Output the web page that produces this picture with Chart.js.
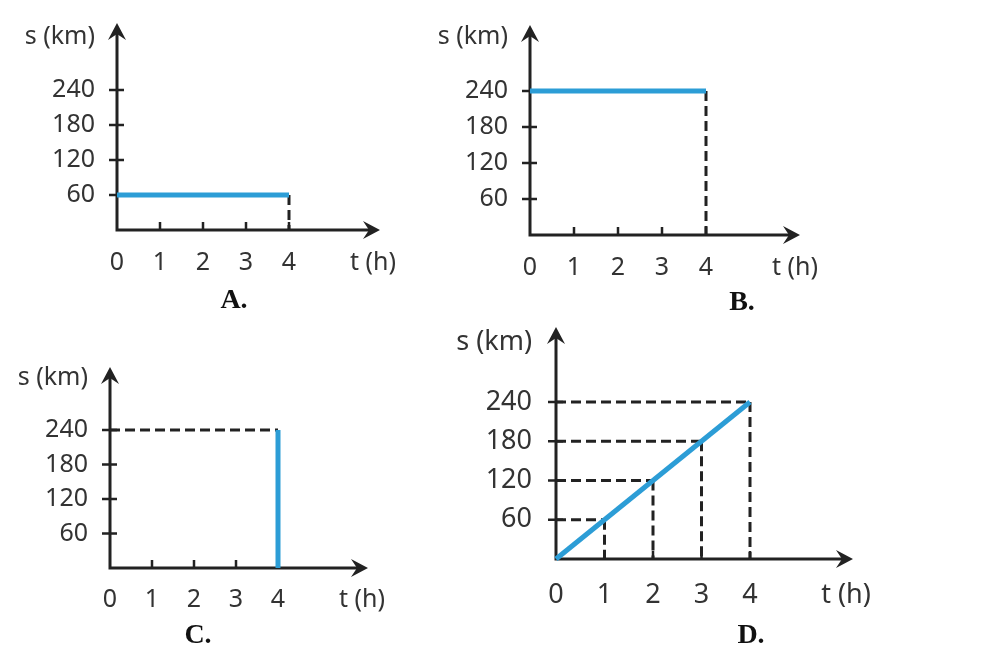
<!DOCTYPE html>
<html>
<head>
<meta charset="utf-8">
<script src="https://cdn.jsdelivr.net/npm/chart.js@4.4.1/dist/chart.umd.min.js"></script>
<style>
html,body{margin:0;padding:0;background:#fff;width:985px;height:645px;overflow:hidden;}
.layer{position:absolute;left:0;top:0;width:985px;height:645px;}
.cap{position:absolute;font-family:"Liberation Serif","Times New Roman",serif;font-weight:bold;font-size:28px;line-height:28px;color:#111;transform:translateX(-50%);white-space:nowrap;}
</style>
</head>
<body>
<div class="layer"><canvas id="cA" width="985" height="645"></canvas></div>
<div class="layer"><canvas id="cB" width="985" height="645"></canvas></div>
<div class="layer"><canvas id="cC" width="985" height="645"></canvas></div>
<div class="layer"><canvas id="cD" width="985" height="645"></canvas></div>
<div class="cap" id="capA" style="left:234px;top:285px;">A.</div>
<div class="cap" id="capB" style="left:742px;top:287px;">B.</div>
<div class="cap" id="capC" style="left:198px;top:620px;">C.</div>
<div class="cap" id="capD" style="left:751px;top:620px;">D.</div>
<script>
// ---- data ----
const timeTicks = [0, 1, 2, 3, 4];
const distTicks = [60, 120, 180, 240];
const xAxisTitle = 't (h)';
const yAxisTitle = 's (km)';
const timeA = [0, 4];
const distA = [60, 60];
const timeB = [0, 4];
const distB = [240, 240];
const timeC = [4, 4];
const distC = [0, 240];
const timeD = [0, 1, 2, 3, 4];
const distD = [0, 60, 120, 180, 240];

// ---- styles ----
const BLUE = '#2c9dd6';
const AXIS = '#222222';
const TEXT = '#333333';

function pts(ts, ss){ return ts.map((t,i)=>({x:t, y:ss[i]})); }
function vGuide(t, s){ return [{x:t,y:s},{x:t,y:0}]; }
function hGuide(t, s){ return [{x:0,y:s},{x:t,y:s}]; }

function arrowHead(ctx, x, y, dir){
  const L = 17, W = 9, N = 6;
  ctx.beginPath();
  if (dir === 'right'){
    ctx.moveTo(x, y); ctx.lineTo(x-L, y-W); ctx.lineTo(x-L+N, y); ctx.lineTo(x-L, y+W);
  } else {
    ctx.moveTo(x, y); ctx.lineTo(x-W, y+L); ctx.lineTo(x, y+L-N); ctx.lineTo(x+W, y+L);
  }
  ctx.closePath();
  ctx.fill();
}

const axesPlugin = {
  id: 'axesArrows',
  beforeDatasetsDraw(chart){
    const {ctx} = chart;
    const xs = chart.scales.x, ys = chart.scales.y;
    const x0 = xs.getPixelForValue(0), y0 = ys.getPixelForValue(0);
    const xEnd = xs.getPixelForValue(xs.max), yEnd = ys.getPixelForValue(ys.max);
    ctx.save();
    ctx.strokeStyle = AXIS;
    ctx.fillStyle = AXIS;
    ctx.lineWidth = 3;
    ctx.beginPath();
    ctx.moveTo(x0, y0 + 1.5); ctx.lineTo(x0, yEnd + 8);
    ctx.moveTo(x0 - 1.5, y0); ctx.lineTo(xEnd - 8, y0);
    ctx.stroke();
    ctx.lineWidth = 2.5;
    ctx.beginPath();
    timeTicks.forEach(t => {
      if (t === 0) return;
      const px = xs.getPixelForValue(t);
      ctx.moveTo(px, y0); ctx.lineTo(px, y0 - 8);
    });
    distTicks.forEach(s => {
      const py = ys.getPixelForValue(s);
      ctx.moveTo(x0 - 8, py); ctx.lineTo(x0 + 7, py);
    });
    ctx.stroke();
    arrowHead(ctx, xEnd, y0, 'right');
    arrowHead(ctx, x0, yEnd, 'up');
    ctx.restore();
  }
};

function makeChart(id, f, series, guides){
  const kmPx = f.uy / 60;
  const xMax = (f.right - f.ox) / f.ux;
  const yMax = (f.oy - f.top) / kmPx;
  const xTitleVal = (f.xTitleX - f.ox) / f.ux;
  const yTitleVal = (f.oy - f.yTitleY) / kmPx;
  const font = {family: '"Noto Sans", "Open Sans", sans-serif', size: f.fs};
  const datasets = [{
    data: series, borderColor: BLUE, borderWidth: 5, pointRadius: 0, tension: 0, clip: false, borderCapStyle: 'butt'
  }];
  guides.forEach(g => datasets.push({
    data: g, borderColor: AXIS, borderWidth: 3, borderDash: [10, 5], pointRadius: 0, tension: 0, clip: false
  }));
  return new Chart(document.getElementById(id), {
    type: 'line',
    data: {datasets},
    options: {
      responsive: false,
      animation: false,
      events: [],
      layout: {padding: {left: f.ox - 100, top: f.top, right: 985 - f.right, bottom: 645 - f.oy - 60}},
      plugins: {legend: {display: false}, tooltip: {enabled: false}, title: {display: false}},
      scales: {
        x: {
          type: 'linear', min: 0, max: xMax,
          grid: {display: false, drawTicks: true, tickLength: f.xPad},
          border: {display: false},
          afterBuildTicks: (s) => { s.ticks = timeTicks.concat([xTitleVal]).map(v => ({value: v})); },
          afterFit: (s) => { s.height = 60; },
          ticks: {
            autoSkip: false, maxRotation: 0, minRotation: 0, padding: 0, color: TEXT, font,
            callback: (v, i) => i < timeTicks.length ? String(timeTicks[i]) : xAxisTitle
          }
        },
        y: {
          type: 'linear', min: 0, max: yMax,
          grid: {display: false, drawTicks: true, tickLength: f.yGap},
          border: {display: false},
          afterBuildTicks: (s) => { s.ticks = distTicks.concat([yTitleVal]).map(v => ({value: v})); },
          afterFit: (s) => { s.width = 100; },
          ticks: {
            autoSkip: false, padding: 0, color: TEXT, font,
            callback: (v, i) => i < distTicks.length ? String(distTicks[i]) : yAxisTitle
          }
        }
      }
    },
    plugins: [axesPlugin]
  });
}

const lastA = timeA.length - 1, lastB = timeB.length - 1, lastC = timeC.length - 1;
makeChart('cA', {ox:117, oy:230, ux:43, uy:35, right:380, top:23, yGap:22, xPad:18, yTitleY:37, xTitleX:373, fs:25},
  pts(timeA, distA), [vGuide(timeA[lastA], distA[lastA])]);
makeChart('cB', {ox:530, oy:235, ux:44, uy:36, right:800, top:25, yGap:22, xPad:18, yTitleY:37, xTitleX:795, fs:25},
  pts(timeB, distB), [vGuide(timeB[lastB], distB[lastB])]);
makeChart('cC', {ox:110, oy:568, ux:42, uy:34.5, right:368, top:367, yGap:22, xPad:17, yTitleY:378, xTitleX:362, fs:25},
  pts(timeC, distC), [hGuide(timeC[lastC], distC[lastC])]);
const guidesD = [];
timeD.forEach((t, i) => { if (distD[i] > 0) { guidesD.push(hGuide(t, distD[i])); guidesD.push(vGuide(t, distD[i])); } });
makeChart('cD', {ox:556, oy:559, ux:48.5, uy:39.25, right:853, top:327, yGap:24, xPad:20, yTitleY:342, xTitleX:846, fs:27},
  pts(timeD, distD), guidesD);
</script>
</body>
</html>
